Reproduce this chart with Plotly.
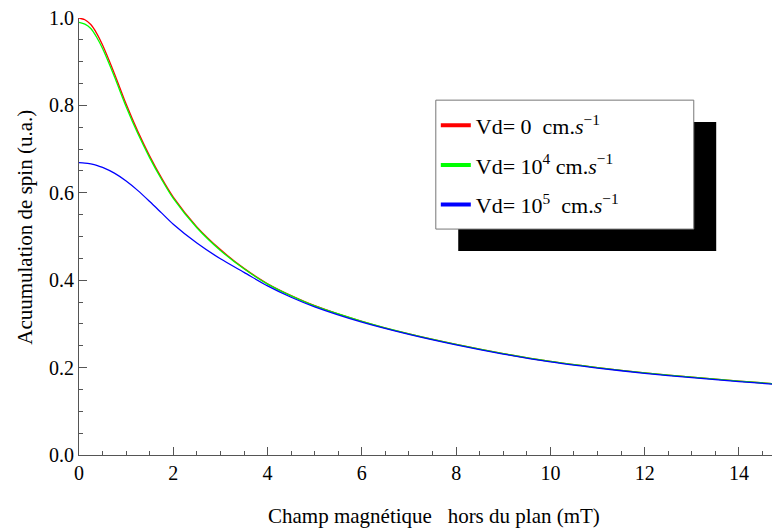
import plotly.graph_objects as go

# ---- data ----
field_mT = [0, 0.125, 0.25, 0.375, 0.5, 0.75, 1.0, 1.25, 1.5, 1.75, 2.0, 2.5, 3.0, 3.5, 4.0, 4.5,
            5.0, 6.0, 7.0, 8.0, 9.0, 10.0, 11.0, 12.0, 13.0, 14.0, 15.0]
acc_vd0 = [1.000, 0.996, 0.985, 0.965, 0.938, 0.873, 0.803, 0.740, 0.684, 0.634, 0.590, 0.522, 0.470,
           0.427, 0.392, 0.365, 0.342, 0.306, 0.277, 0.253, 0.232, 0.214, 0.200, 0.188,
           0.178, 0.169, 0.161]
acc_vd1e4 = [0.990, 0.986, 0.976, 0.956, 0.930, 0.866, 0.797, 0.735, 0.680, 0.631, 0.587, 0.520, 0.468,
             0.426, 0.391, 0.364, 0.341, 0.306, 0.277, 0.253, 0.232, 0.214, 0.200, 0.188,
             0.178, 0.169, 0.161]
acc_vd1e5 = [0.669, 0.668, 0.666, 0.663, 0.658, 0.645, 0.627, 0.605, 0.580, 0.554, 0.528, 0.485, 0.449,
             0.418, 0.387, 0.361, 0.339, 0.304, 0.276, 0.252, 0.231, 0.213, 0.199, 0.187,
             0.177, 0.168, 0.160]

series_names = ["Vd=\u00a00 \u00a0cm.<i>s</i><sup>\u22121</sup>",
                "Vd=\u00a010<sup>4</sup> cm.<i>s</i><sup>\u22121</sup>",
                "Vd=\u00a010<sup>5</sup> \u00a0cm.<i>s</i><sup>\u22121</sup>"]
series_values = [acc_vd0, acc_vd1e4, acc_vd1e5]
series_colors = ["#ff0000", "#00ff00", "#0000ff"]

x_ticks = [0, 2, 4, 6, 8, 10, 12, 14]
y_ticks = [0.0, 0.2, 0.4, 0.6, 0.8, 1.0]

x_title = "Champ magnétique \u00a0 hors du plan (mT)"
y_title = "Acuumulation de spin (u.a.)"

FONT = "Liberation Serif, Times New Roman, serif"

fig = go.Figure()
for name, vals, col in zip(series_names, series_values, series_colors):
    fig.add_trace(go.Scatter(x=field_mT, y=vals, mode="lines",
                             line=dict(color=col, width=1.3, shape="spline", smoothing=0.8),
                             showlegend=False, hoverinfo="skip"))
# legend entries (thick swatches)
for i, (name, col) in enumerate(zip(series_names, series_colors)):
    fig.add_trace(go.Scatter(x=[None], y=[None], mode="lines", line=dict(color=col, width=4),
                             name=name, legendgroup=f"g{i}", showlegend=True))

# legend box and its shadow
fig.add_shape(type="rect", xref="paper", yref="paper", x0=0.541, x1=0.909, y0=0.467, y1=0.762,
              fillcolor="black", line=dict(width=0), layer="above")
fig.add_shape(type="rect", xref="paper", yref="paper", x0=0.509, x1=0.877, y0=0.517, y1=0.812,
              fillcolor="white", line=dict(color="#777777", width=1), layer="above")

# axis titles
fig.add_annotation(text=x_title, xref="paper", yref="paper", x=0.506, y=-0.140,
                   xanchor="center", yanchor="middle", showarrow=False,
                   font=dict(family=FONT, size=21, color="black"))
fig.add_annotation(text=y_title, xref="paper", yref="paper", x=-0.077, y=0.52, textangle=-90,
                   xanchor="center", yanchor="middle", showarrow=False,
                   font=dict(family=FONT, size=21, color="black"))

# page body has an 8px margin: size the figure so the plot lands where the reference has it
fig.update_layout(
    width=772, height=523,
    margin=dict(l=71, r=0, t=10, b=76, autoexpand=False),
    paper_bgcolor="white", plot_bgcolor="white",
    font=dict(family=FONT, size=20, color="black"),
    legend=dict(x=0.509, y=0.802, xanchor="left", yanchor="top", bgcolor="rgba(0,0,0,0)",
                borderwidth=0, font=dict(family=FONT, size=22), tracegroupgap=8),
    xaxis=dict(range=[0, 14.87], tickvals=x_ticks, showgrid=False, zeroline=False,
               showline=True, linecolor="#555555", linewidth=1, automargin=False,
               ticks="inside", ticklen=8, tickcolor="#555555", ticklabeloverflow="allow",
               minor=dict(dtick=0.5, ticks="inside", ticklen=4, tickcolor="#555555"),
               tickfont=dict(family=FONT, size=20)),
    yaxis=dict(range=[0, 1.0], tickvals=y_ticks, tickformat=".1f", showgrid=False, zeroline=False,
               showline=True, linecolor="#555555", linewidth=1, automargin=False,
               ticks="inside", ticklen=8, tickcolor="#555555", ticklabeloverflow="allow",
               minor=dict(dtick=0.05, ticks="inside", ticklen=4, tickcolor="#555555"),
               tickfont=dict(family=FONT, size=20)),
)

fig.write_html("out.html")
